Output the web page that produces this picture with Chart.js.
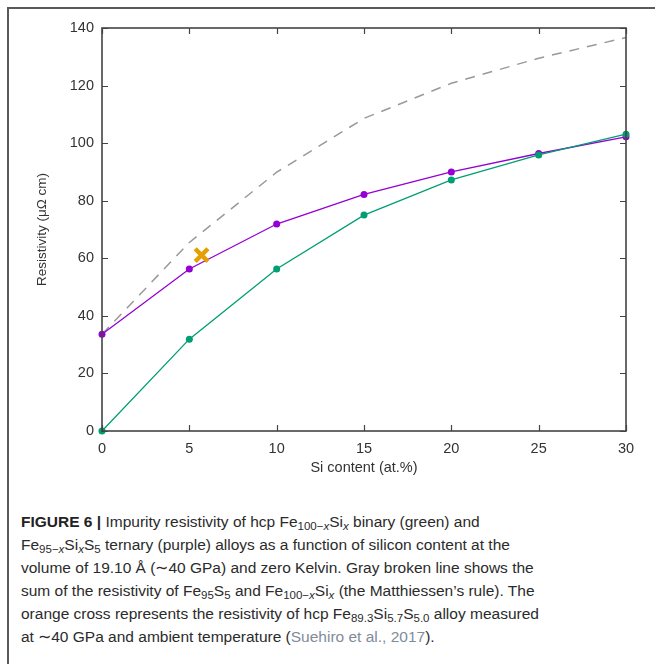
<!DOCTYPE html>
<html>
<head>
<meta charset="utf-8">
<script src="https://cdn.jsdelivr.net/npm/chart.js@4/dist/chart.umd.min.js"></script>
<style>
  html, body { margin: 0; padding: 0; background: #fff; }
  body { width: 655px; height: 664px; position: relative; overflow: hidden; }
  #frame {
    position: absolute; left: 7px; top: 7px; width: 700px; height: 700px;
    border-left: 2px solid #5a5a5a; border-top: 2px solid #5a5a5a;
  }
  #plot { position: absolute; left: 0; top: 0; }
  #caption {
    position: absolute; left: 21px; top: 510px;
    font-family: "Liberation Sans", Arial, sans-serif;
    font-size: 15.5px; line-height: 23px; color: #2b2b2b;
    white-space: nowrap;
  }
  #caption b { font-weight: bold; color: #222; }
  #caption sub { font-size: 11.5px; line-height: 0; vertical-align: -3px; }
  #caption .cite { color: #7f8c99; }
</style>
</head>
<body>
<div id="frame"></div>
<canvas id="plot" width="655" height="490"></canvas>
<div id="caption">
  <b>FIGURE 6 |</b> Impurity resistivity of hcp Fe<sub>100−<i>x</i></sub>Si<sub><i>x</i></sub> binary (green) and<br>
  Fe<sub>95−<i>x</i></sub>Si<sub><i>x</i></sub>S<sub>5</sub> ternary (purple) alloys as a function of silicon content at the<br>
  volume of 19.10 Å (∼40 GPa) and zero Kelvin. Gray broken line shows the<br>
  sum of the resistivity of Fe<sub>95</sub>S<sub>5</sub> and Fe<sub>100−<i>x</i></sub>Si<sub><i>x</i></sub> (the Matthiessen’s rule). The<br>
  orange cross represents the resistivity of hcp Fe<sub>89.3</sub>Si<sub>5.7</sub>S<sub>5.0</sub> alloy measured<br>
  at ∼40 GPa and ambient temperature (<span class="cite">Suehiro et al., 2017</span>).
</div>
<script>
// Si content (at.%) and resistivity (μΩ cm)
const siContent = [0, 5, 10, 15, 20, 25, 30];
const binaryRes = [0, 31.9, 56.3, 75.0, 87.2, 95.9, 103.1];
const ternaryRes = [33.6, 56.3, 71.9, 82.2, 90.0, 96.4, 102.2];
const matthiessenRes = [33.6, 65.5, 89.9, 108.6, 120.8, 129.5, 136.7];
const measuredX = [5.7];
const measuredY = [61.1];

const xTicks = [0, 5, 10, 15, 20, 25, 30];
const yTicks = [0, 20, 40, 60, 80, 100, 120, 140];

const toPoints = (xs, ys) => xs.map((x, i) => ({ x: x, y: ys[i] }));

const font = size => ({ family: "Liberation Sans, Arial, sans-serif", size: size });

// gnuplot style frame with inward ticks on all four sides
const frameTicks = {
    id: "frameTicks",
    afterDatasetsDraw(chart) {
        const { ctx, chartArea: a, scales } = chart;
        const len = 6;
        ctx.save();
        ctx.strokeStyle = "#444";
        ctx.lineWidth = 1.2;
        xTicks.forEach(v => {
            const px = Math.round(scales.x.getPixelForValue(v)) + 0.5;
            ctx.beginPath();
            ctx.moveTo(px, a.bottom); ctx.lineTo(px, a.bottom - len);
            ctx.moveTo(px, a.top); ctx.lineTo(px, a.top + len);
            ctx.stroke();
        });
        yTicks.forEach(v => {
            const py = Math.round(scales.y.getPixelForValue(v)) + 0.5;
            ctx.beginPath();
            ctx.moveTo(a.left, py); ctx.lineTo(a.left + len, py);
            ctx.moveTo(a.right, py); ctx.lineTo(a.right - len, py);
            ctx.stroke();
        });
        ctx.lineWidth = 1.6;
        ctx.strokeRect(a.left, a.top, a.right - a.left, a.bottom - a.top);
        ctx.restore();
    }
};

const ctx = document.getElementById("plot").getContext("2d");

new Chart(ctx, {
    type: "scatter",
    data: {
        datasets: [
            {
                label: "Orange cross",
                data: toPoints(measuredX, measuredY),
                pointStyle: "crossRot",
                pointRadius: 9,
                pointBorderWidth: 4.5,
                borderColor: "#e69f00",
                backgroundColor: "#e69f00",
                order: 0
            },
            {
                label: "Matthiessen",
                data: toPoints(siContent, matthiessenRes),
                showLine: true,
                borderColor: "#999999",
                borderWidth: 1.5,
                borderDash: [10, 8],
                pointRadius: 0,
                order: 3
            },
            {
                label: "Fe95-xSixS5",
                data: toPoints(siContent, ternaryRes),
                showLine: true,
                borderColor: "#9400d3",
                backgroundColor: "#9400d3",
                borderWidth: 1.3,
                pointRadius: 3.5,
                pointBorderWidth: 0,
                order: 2
            },
            {
                label: "Fe100-xSix",
                data: toPoints(siContent, binaryRes),
                showLine: true,
                borderColor: "#009e73",
                backgroundColor: "#009e73",
                borderWidth: 1.3,
                pointRadius: 3.5,
                pointBorderWidth: 0,
                order: 1
            }
        ]
    },
    options: {
        responsive: false,
        animation: false,
        devicePixelRatio: 1,
        clip: false,
        layout: { padding: { left: 0, right: 29, top: 28, bottom: 0 } },
        plugins: {
            legend: { display: false },
            tooltip: { enabled: false }
        },
        scales: {
            x: {
                type: "linear",
                min: 0,
                max: 30,
                afterFit: s => { s.height = 59; },
                afterBuildTicks: s => { s.ticks = xTicks.map(v => ({ value: v })); },
                grid: { display: false },
                border: { display: false },
                ticks: { color: "#333", padding: 1, font: font(14.5) },
                title: {
                    display: true,
                    text: "Si content (at.%)",
                    color: "#333",
                    padding: { top: 0, bottom: 13 },
                    font: font(14.5)
                }
            },
            y: {
                type: "linear",
                min: 0,
                max: 140,
                afterFit: s => { s.width = 102; },
                afterBuildTicks: s => { s.ticks = yTicks.map(v => ({ value: v })); },
                grid: { display: false },
                border: { display: false },
                ticks: { color: "#333", padding: 0, font: font(14.5) },
                title: {
                    display: true,
                    text: "Resistivity (μΩ cm)",
                    color: "#333",
                    padding: { top: 34, bottom: 0 },
                    font: font(13.5)
                }
            }
        }
    },
    plugins: [frameTicks]
});
</script>
</body>
</html>
